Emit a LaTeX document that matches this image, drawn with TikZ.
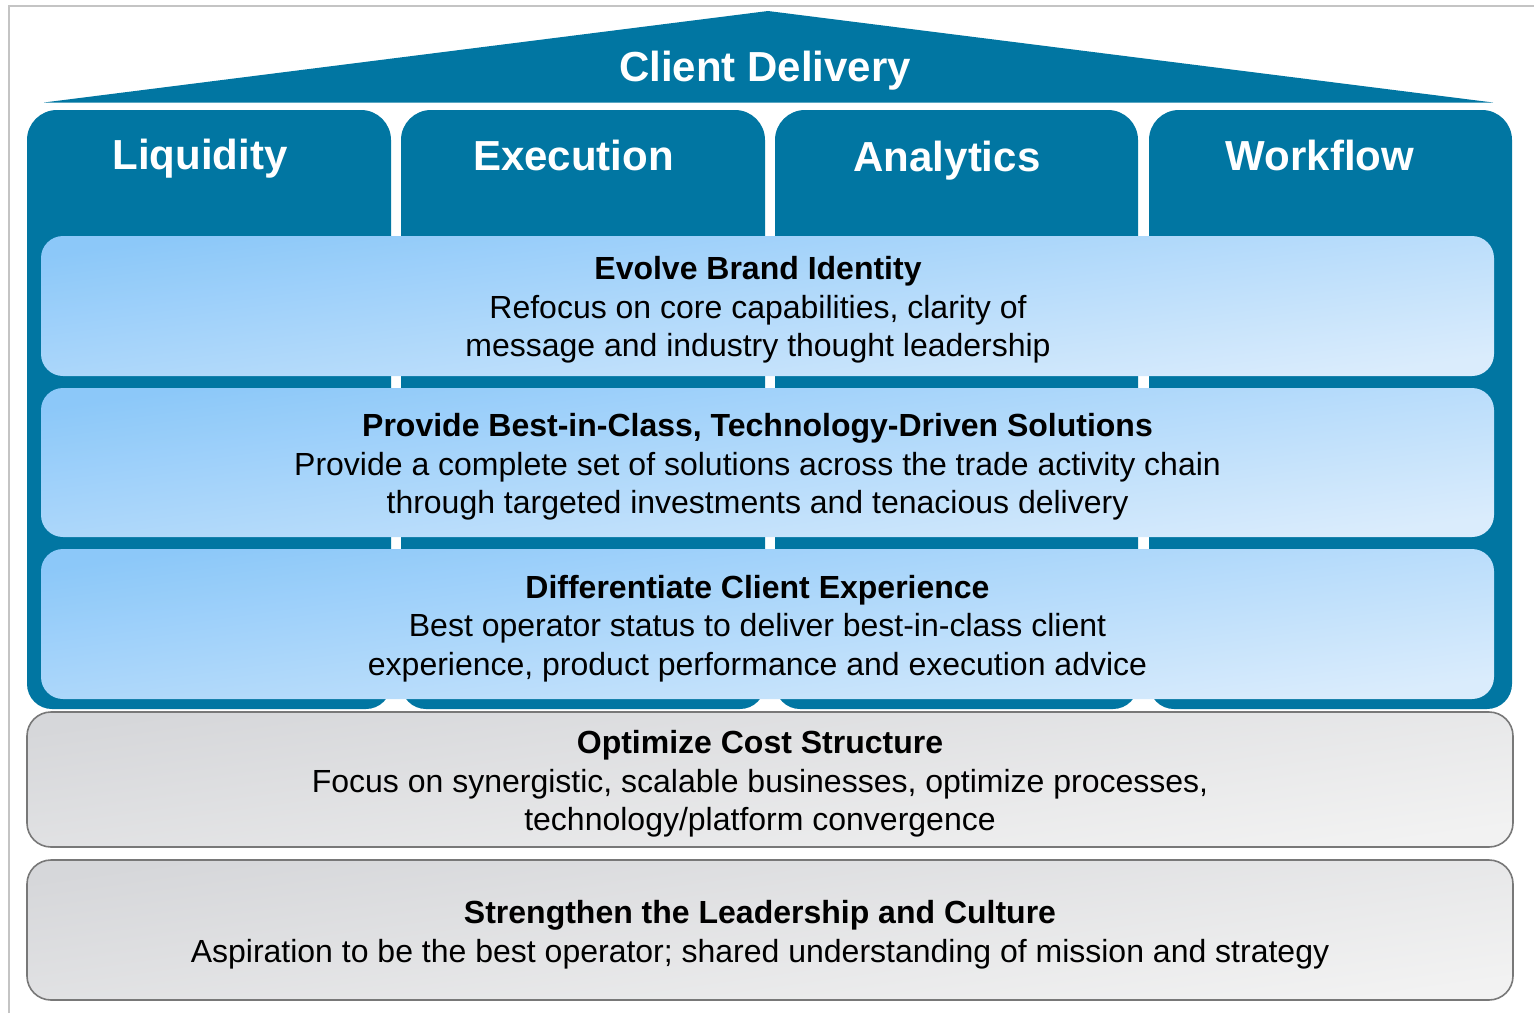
\documentclass[tikz,border=0pt]{standalone}
\usepackage{fontspec}
\setmainfont{Liberation Sans}
\definecolor{pillarblue}{RGB}{1,118,162}
\definecolor{bandtop}{RGB}{140,200,249}
\definecolor{bandbot}{RGB}{218,236,252}
\definecolor{greytop}{RGB}{214,215,218}
\definecolor{greybot}{RGB}{242,242,242}
\definecolor{greyedge}{RGB}{120,120,120}
\definecolor{framegrey}{RGB}{196,196,196}
\tikzset{
  pillar/.style={fill=pillarblue},
  blueband/.style={draw=none, rounded corners=22pt, top color=bandtop,
    bottom color=bandbot, shading angle=8, inner sep=0pt},
  greyband/.style={draw=greyedge, line width=1.6pt, rounded corners=24pt,
    top color=greytop, bottom color=greybot, shading angle=8, inner sep=0pt},
  bandtext/.style={align=center, text=black, inner sep=0pt,
    font=\fontsize{32}{38.5}\selectfont},
  pillartitle/.style={anchor=base, text=white, inner sep=0pt,
    font=\fontsize{42}{50}\selectfont\bfseries},
}
\begin{document}
\begin{tikzpicture}[x=1pt, y=-1pt]
\useasboundingbox (0,0) rectangle (1534,1013);
% outer frame
\draw[framegrey, line width=2pt] (9,1013) -- (9,6) -- (1534,6);

% roof
\fill[pillarblue] (44,102.5) -- (768,11) -- (1493,102.5) -- cycle;
\node[pillartitle] (roof) at (765,81) {Client Delivery};

% four pillars
\foreach \xa/\xb in {27/391, 401/765, 775/1138, 1149/1512}{
  \fill[pillar] (\xa,400) [rounded corners=30pt] |- ({(\xa+\xb)/2},110) -| (\xb,400)
    [rounded corners=25pt] |- ({(\xa+\xb)/2},709) -| (\xa,400) -- cycle;
}
\node[pillartitle] (liq) at (200,169.5) {Liquidity};
\node[pillartitle] (exe) at (573.5,170) {Execution};
\node[pillartitle] (ana) at (947,171.5) {Analytics};
\node[pillartitle] (wfl) at (1320,170.5) {Workflow};

% blue strategy bands
\node[blueband, minimum width=1453pt, minimum height=140pt] (b1) at (767.5,306) {};
\node[blueband, minimum width=1453pt, minimum height=149pt] (b2) at (767.5,462.5) {};
\node[blueband, minimum width=1453pt, minimum height=150pt] (b3) at (767.5,624) {};

% grey foundation bands
\node[greyband, minimum width=1486pt, minimum height=135pt] (g1) at (770,779.5) {};
\node[greyband, minimum width=1486pt, minimum height=140pt] (g2) at (770,930) {};

% band texts
\node[bandtext] (t1) at (758,310) {\textbf{Evolve Brand Identity}\\
  Refocus on core capabilities, clarity of\\
  message and industry thought leadership};
\node[bandtext] (t2) at (757.5,467) {\textbf{Provide Best-in-Class, Technology-Driven Solutions}\\
  Provide a complete set of solutions across the trade activity chain\\
  through targeted investments and tenacious delivery};
\node[bandtext] (t3) at (757.5,628.5) {\textbf{Differentiate Client Experience}\\
  Best operator status to deliver best-in-class client\\
  experience, product performance and execution advice};
\node[bandtext] (t4) at (760,784) {\textbf{Optimize Cost Structure}\\
  Focus on synergistic, scalable businesses, optimize processes,\\
  technology/platform convergence};
\node[bandtext] (t5) at (760,934.5) {\textbf{Strengthen the Leadership and Culture}\\
  Aspiration to be the best operator; shared understanding of mission and strategy};
\end{tikzpicture}
\end{document}
